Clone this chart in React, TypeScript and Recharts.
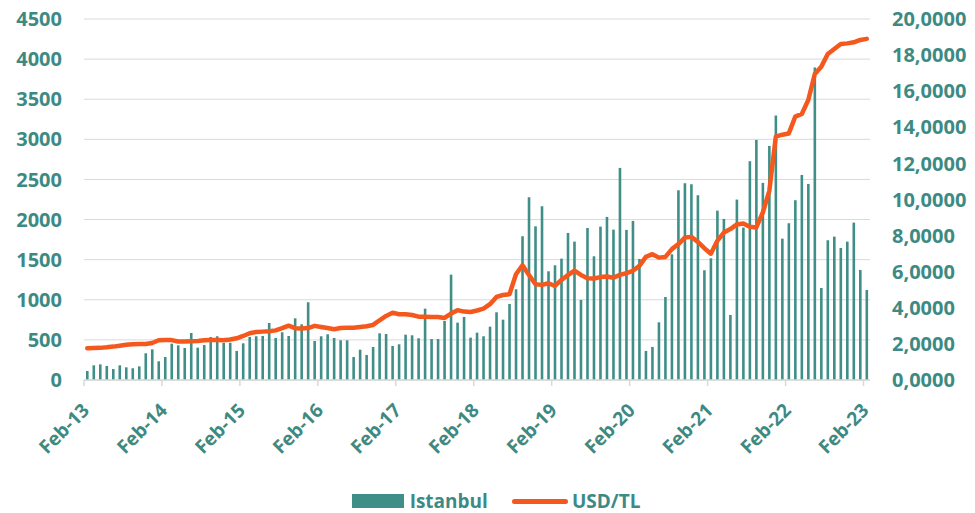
import React from 'react';
import { ComposedChart, Bar, Line, XAxis, YAxis, CartesianGrid, Legend } from 'recharts';

const tickLabels = ['Feb-13', 'Feb-14', 'Feb-15', 'Feb-16', 'Feb-17', 'Feb-18', 'Feb-19', 'Feb-20', 'Feb-21', 'Feb-22', 'Feb-23'];

const istanbul = [
  112, 183, 195, 175, 137, 183, 158, 146, 170, 333, 382, 233,
  287, 453, 432, 399, 586, 403, 436, 536, 545, 461, 465, 362,
  457, 536, 545, 549, 711, 524, 595, 549, 769, 694, 969, 486,
  545, 570, 524, 495, 495, 287, 378, 312, 411, 582, 574, 424,
  445, 565, 557, 520, 889, 511, 511, 736, 1313, 715, 786, 528,
  590, 545, 665, 844, 752, 948, 1131, 1792, 2278, 1916, 2166, 1355,
  1430, 1513, 1833, 1725, 998, 1895, 1542, 1912, 2033, 1874, 2644, 1871,
  1983, 1509, 362, 412, 719, 1035, 1567, 2365, 2453, 2440, 2303, 1368,
  1517, 2111, 2008, 811, 2249, 1900, 2727, 2993, 2457, 2918, 3296, 1762,
  1954, 2241, 2556, 2444, 3894, 1147, 1742, 1787, 1646, 1725, 1962, 1372,
  1122,
];

const usdtl = [
  1.76, 1.77, 1.78, 1.81, 1.85, 1.9, 1.95, 1.98, 2.0, 2.0, 2.05, 2.2,
  2.22, 2.21, 2.13, 2.13, 2.15, 2.16, 2.2, 2.22, 2.22, 2.2, 2.24, 2.31,
  2.44, 2.59, 2.66, 2.68, 2.7, 2.75, 2.87, 3.01, 2.87, 2.85, 2.88, 3.0,
  2.94, 2.88, 2.81, 2.88, 2.9, 2.9, 2.94, 2.98, 3.05, 3.31, 3.55, 3.73,
  3.64, 3.64, 3.6, 3.51, 3.51, 3.49, 3.49, 3.44, 3.68, 3.87, 3.79, 3.77,
  3.85, 3.95, 4.2, 4.6, 4.71, 4.75, 5.86, 6.36, 5.82, 5.31, 5.27, 5.36,
  5.21, 5.55, 5.81, 6.06, 5.82, 5.64, 5.62, 5.7, 5.73, 5.67, 5.82, 5.92,
  6.05, 6.32, 6.82, 6.97, 6.78, 6.82, 7.25, 7.53, 7.89, 7.93, 7.65, 7.3,
  7.0, 7.71, 8.17, 8.36, 8.62, 8.67, 8.49, 8.45, 9.28, 10.48, 13.48, 13.59,
  13.66, 14.59, 14.74, 15.51, 16.95, 17.36, 18.06, 18.34, 18.62, 18.65, 18.71, 18.84,
  18.9,
];

const leftTicks = [0, 500, 1000, 1500, 2000, 2500, 3000, 3500, 4000, 4500];
const rightTicks = [0, 2, 4, 6, 8, 10, 12, 14, 16, 18, 20];

const data = istanbul.map((v, i) => ({ i, istanbul: v, usd: usdtl[i] }));
const xTicks = tickLabels.map((_, k) => k * 12 - 0.5);

const FONT = '"Open Sans", sans-serif';
const TEXT = '#3D8A84';
const BAR = '#3F8E87';
const ORANGE = '#F4581C';
const GRID = '#D9D9D9';

const XTick = (props: any) => {
  const { x, payload } = props;
  const k = Math.round((payload.value + 0.5) / 12);
  const label = tickLabels[k] ?? '';
  const ax = x - 3;
  const ay = 402;
  return (
    <text
      x={ax}
      y={ay}
      dy="0.71em"
      textAnchor="end"
      transform={`rotate(-45, ${ax}, ${ay})`}
      fill={TEXT}
      fontFamily={FONT}
      fontWeight={700}
      fontSize={19}
    >
      {label}
    </text>
  );
};

const LegendContent = () => (
  <div
    style={{
      height: 34,
      boxSizing: 'border-box',
      display: 'flex',
      justifyContent: 'center',
      alignItems: 'flex-start',
      paddingLeft: 17,
      paddingTop: 12,
      fontFamily: FONT,
      fontWeight: 700,
      fontSize: 19,
      color: TEXT,
      lineHeight: '20px',
    }}
  >
    <div style={{ display: 'flex', alignItems: 'center', height: 20 }}>
      <span style={{ width: 52, height: 14, background: BAR, display: 'inline-block', marginRight: 6 }} />
      <span>Istanbul</span>
      <span
        style={{
          width: 56,
          height: 5,
          background: ORANGE,
          borderRadius: 3,
          display: 'inline-block',
          marginLeft: 24,
          marginRight: 4,
        }}
      />
      <span>USD/TL</span>
    </div>
  </div>
);

export default function App() {
  return (
    <div style={{ position: 'absolute', left: 0, top: 0, width: 975, height: 513, background: '#fff' }}>
      <ComposedChart
        width={975}
        height={513}
        data={data}
        margin={{ top: 19, right: 0, bottom: 0, left: 0 }}
      >
        <CartesianGrid vertical={false} stroke={GRID} strokeWidth={1} yAxisId="left" />
        <XAxis
          type="number"
          dataKey="i"
          domain={[-0.5, 120.5]}
          ticks={xTicks}
          interval={0}
          height={99}
          axisLine={{ stroke: GRID, strokeWidth: 1.5 }}
          tickLine={{ stroke: GRID, strokeWidth: 1.5 }}
          tickSize={6}
          tick={<XTick />}
          allowDataOverflow
        />
        <YAxis
          yAxisId="left"
          orientation="left"
          width={84}
          domain={[0, 4500]}
          ticks={leftTicks}
          interval={0}
          axisLine={false}
          tickLine={false}
          tickSize={6}
          tickMargin={16}
          tick={{ fill: TEXT, fontFamily: FONT, fontWeight: 700, fontSize: 20 }}
        />
        <YAxis
          yAxisId="right"
          orientation="right"
          width={105}
          domain={[0, 20]}
          ticks={rightTicks}
          interval={0}
          axisLine={false}
          tickLine={false}
          tickSize={6}
          tickMargin={16}
          tickFormatter={(v: number) => `${v},0000`}
          tick={{ fill: TEXT, fontFamily: FONT, fontWeight: 700, fontSize: 20, textAnchor: 'start' }}
        />
        <Legend verticalAlign="bottom" content={<LegendContent />} />
        <Bar
          yAxisId="left"
          dataKey="istanbul"
          name="Istanbul"
          fill={BAR}
          barSize={2.6}
          isAnimationActive={false}
        />
        <Line
          yAxisId="right"
          dataKey="usd"
          name="USD/TL"
          type="linear"
          stroke={ORANGE}
          strokeWidth={4.5}
          strokeLinejoin="round"
          strokeLinecap="round"
          dot={false}
          activeDot={false}
          isAnimationActive={false}
        />
      </ComposedChart>
    </div>
  );
}
